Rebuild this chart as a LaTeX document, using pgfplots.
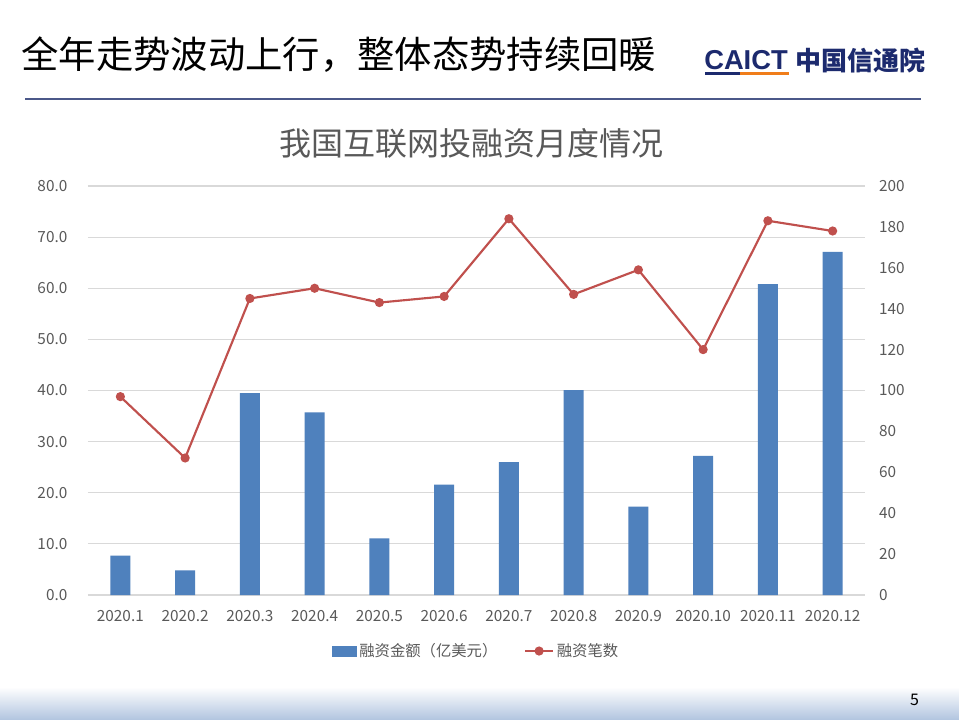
\documentclass[border=0pt]{standalone}
\usepackage{fontspec}
\setmainfont{Noto Sans CJK SC}
\newfontfamily\logofont{Liberation Sans}
\usepackage{pgfplots}
\pgfplotsset{compat=1.18}
\definecolor{barblue}{HTML}{4F81BD}
\definecolor{linered}{HTML}{C0504D}
\definecolor{tickgray}{HTML}{595959}
\definecolor{gridgray}{HTML}{D9D9D9}
\definecolor{hdrline}{HTML}{4B5889}
\definecolor{navy}{HTML}{1C2A6E}
\definecolor{logoorange}{HTML}{F07D1A}
\definecolor{footblue}{HTML}{B3C6E0}
\begin{document}
\begin{tikzpicture}
% page
\fill[white] (0,0) rectangle (719.25pt,539.25pt);
\shade[top color=white, bottom color=footblue] (0,0) rectangle (719.25pt,24pt);
\node[anchor=center, font=\fontsize{12}{14}\selectfont] at (686pt,14pt) {5};
% header
\node[anchor=west, inner sep=0pt, font=\fontsize{28}{30}\selectfont] at (16pt,498pt) {全年走势波动上行，整体态势持续回暖};
\draw[hdrline, line width=2pt] (18.75pt,465pt) -- (690.75pt,465pt);
% logo
\node[anchor=west, inner sep=0pt, text=navy, font=\logofont\bfseries\fontsize{20.5}{22}\selectfont] at (528pt,494.5pt) {CAICT};
\fill[navy] (529pt,482.8pt) rectangle (555pt,485pt);
\fill[logoorange] (555pt,482.8pt) rectangle (591.5pt,485pt);
\node[anchor=west, inner sep=0pt, text=navy, font=\bfseries\fontsize{19.5}{22}\selectfont] at (596.5pt,494pt) {中国信通院};
% chart title
\node[text=tickgray, font=\fontsize{24}{28}\selectfont] at (353.6pt,432pt) {我国互联网投融资月度情况};
\begin{axis}[
  at={(66pt,93pt)}, anchor=south west,
  scale only axis, width=582.75pt, height=306.75pt,
  xmin=-0.5, xmax=11.5, ymin=0, ymax=80,
  ytick={0,10,...,80},
  xtick={0,...,11},
  xticklabels={2020.1,2020.2,2020.3,2020.4,2020.5,2020.6,2020.7,2020.8,2020.9,2020.10,2020.11,2020.12},
  ytick pos=left, xtick pos=bottom,
  major tick length=0pt,
  axis line style={draw=none},
  ymajorgrids, grid style={gridgray, line width=0.9pt},
  yticklabel style={/pgf/number format/fixed, /pgf/number format/fixed zerofill, /pgf/number format/precision=1, xshift=-12pt},
  xticklabel style={yshift=-8pt},
  ticklabel style={font=\fontsize{11.5}{13}\selectfont, text=tickgray},
  /pgf/number format/assume math mode=true,
  ybar, bar width=15pt,
]
\addplot[fill=barblue, draw=none] coordinates {
 (0,7.7) (1,4.8) (2,39.5) (3,35.7) (4,11.1) (5,21.6)
 (6,26.0) (7,40.1) (8,17.3) (9,27.2) (10,60.8) (11,67.1)};
\end{axis}
\begin{axis}[
  at={(66pt,93pt)}, anchor=south west,
  scale only axis, width=582.75pt, height=306.75pt,
  xmin=-0.5, xmax=11.5, ymin=0, ymax=200,
  ytick={0,20,...,200},
  axis x line=none,
  axis y line*=right,
  axis line style={draw=none},
  major tick length=0pt,
  yticklabel style={xshift=7pt},
  ticklabel style={font=\fontsize{11.5}{13}\selectfont, text=tickgray},
  /pgf/number format/assume math mode=true,
  legend style={at={(0.5,-0.137)}, anchor=center, draw=none, legend columns=2,
    font=\fontsize{11.5}{13}\selectfont, text=tickgray,
    /tikz/every even column/.append style={column sep=18pt}},
]
\addlegendimage{legend image code/.code={\fill[barblue] (0pt,-3.75pt) rectangle (18pt,3.75pt);}}
\addlegendentry{融资金额（亿美元）}
\addplot[linered, line width=1.6pt, mark=*, mark size=2.6pt, mark options={fill=linered, draw=linered},
  legend image code/.code={\draw[linered, line width=1.6pt] (0pt,0pt) -- (21pt,0pt); \fill[linered] (10.5pt,0pt) circle (2.6pt);}]
 coordinates {
 (0,97) (1,67) (2,145) (3,150) (4,143) (5,146)
 (6,184) (7,147) (8,159) (9,120) (10,183) (11,178)};
\addlegendentry{融资笔数}
\end{axis}
\end{tikzpicture}
\end{document}
